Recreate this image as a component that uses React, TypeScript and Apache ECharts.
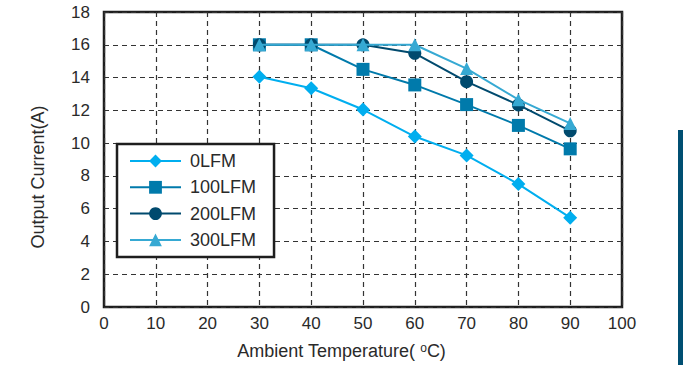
import React, { useEffect, useRef } from "react";
import * as echarts from "echarts";

const temps = [30, 40, 50, 60, 70, 80, 90];
const lfm0 = [14.05, 13.35, 12.05, 10.4, 9.25, 7.5, 5.45];
const lfm100 = [16, 16, 14.5, 13.55, 12.35, 11.08, 9.65];
const lfm200 = [16, 16, 16, 15.48, 13.75, 12.33, 10.75];
const lfm300 = [16, 16, 16, 16, 14.55, 12.65, 11.2];
const seriesNames = ["0LFM", "100LFM", "200LFM", "300LFM"];
const seriesColors = ["#00aeef", "#007aab", "#004a6e", "#36a9d3"];
const seriesSymbols = ["diamond", "rect", "circle", "triangle"];
const seriesSizes = [14, 13, 13, 13];
const yTitle = "Output Current(A)";

const FONT = "'Liberation Sans', Arial, Helvetica, sans-serif";

export default function App() {
  const ref = useRef<HTMLDivElement>(null);
  useEffect(() => {
    if (!ref.current) return;
    const chart = echarts.init(ref.current, null, { renderer: "svg" });
    const values = [lfm0, lfm100, lfm200, lfm300];
    chart.setOption({
      animation: false,
      backgroundColor: "#ffffff",
      textStyle: { fontFamily: FONT },
      grid: {
        left: 104,
        right: 61,
        top: 12,
        bottom: 57,
        show: true,
        borderColor: "#1e1e1e",
        borderWidth: 2.5,
        backgroundColor: "transparent",
      },
      legend: {
        orient: "vertical",
        left: 117,
        top: 144,
        padding: [8, 18, 8, 12],
        itemWidth: 51,
        itemHeight: 16,
        itemGap: 8.3,
        backgroundColor: "#ffffff",
        borderColor: "#1e1e1e",
        borderWidth: 2.5,
        borderRadius: 0,
        data: seriesNames,
        textStyle: { fontFamily: FONT, fontSize: 18, color: "#2a2a2a", padding: [0, 0, 0, 4] },
      },
      xAxis: {
        type: "value",
        min: 0,
        max: 100,
        interval: 10,
        axisLine: { show: false },
        axisTick: { show: false },
        axisLabel: { fontFamily: FONT, fontSize: 17, color: "#2a2a2a", margin: 8 },
        splitLine: { show: true, lineStyle: { color: "#333333", width: 1.2, type: [5, 4] } },
        name: "Ambient Temperature( {o|o}C)",
        nameLocation: "middle",
        nameGap: 35,
        nameTextStyle: {
          fontFamily: FONT,
          fontSize: 18,
          color: "#2a2a2a",
          padding: [0, 43, 0, 0],
          rich: { o: { fontSize: 12, verticalAlign: "top", padding: [0, 0, 5, 0], fontFamily: FONT, color: "#2a2a2a" } },
        },
      },
      yAxis: {
        type: "value",
        min: 0,
        max: 18,
        interval: 2,
        axisLine: { show: false },
        axisTick: { show: false },
        axisLabel: { fontFamily: FONT, fontSize: 17, color: "#2a2a2a", margin: 14 },
        splitLine: { show: true, lineStyle: { color: "#333333", width: 1.2, type: [5, 4] } },
      },
      series: seriesNames.map((name, i) => ({
        name,
        type: "line",
        data: temps.map((t, j) => [t, values[i][j]]),
        symbol: seriesSymbols[i],
        symbolSize: seriesSizes[i],
        showAllSymbol: true,
        lineStyle: { color: seriesColors[i], width: 2 },
        itemStyle: { color: seriesColors[i], borderWidth: 0 },
        z: 2 + i,
      })),
      graphic: [
        {
          type: "text",
          x: 38,
          y: 177,
          rotation: Math.PI / 2,
          style: {
            text: yTitle,
            font: "18px 'Liberation Sans', Arial, sans-serif",
            fill: "#2a2a2a",
            align: "center",
            verticalAlign: "middle",
          },
        },
        {
          type: "rect",
          shape: { x: 678, y: 130, width: 6, height: 240 },
          style: { fill: "#004f72" },
        },
      ],
    });
    return () => chart.dispose();
  }, []);
  return (
    <div
      ref={ref}
      style={{ position: "fixed", left: 0, top: 0, width: 683, height: 365 }}
    />
  );
}
